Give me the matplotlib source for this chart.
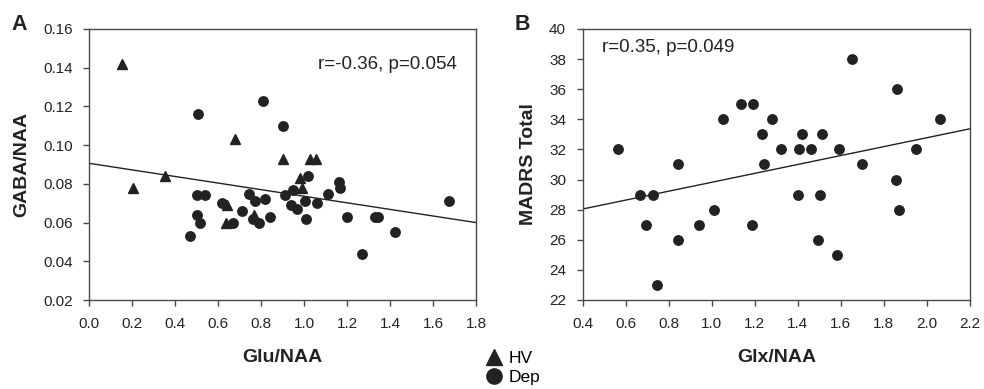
import matplotlib
matplotlib.use("Agg")
import matplotlib.pyplot as plt
import numpy as np
from matplotlib.lines import Line2D

plt.rcParams['font.family'] = ['Liberation Sans', 'DejaVu Sans']

# ---- Panel A data ----
hv_glu = [0.152, 0.202, 0.352, 0.678, 0.90, 1.027, 1.054, 0.639, 0.634, 0.768, 0.98, 0.991]
hv_gaba = [0.142, 0.078, 0.084, 0.103, 0.093, 0.093, 0.093, 0.069, 0.060, 0.064, 0.083, 0.078]

dep_glu = [0.507, 0.81, 0.90, 0.50, 0.538, 0.50, 0.515, 0.468, 0.616, 0.667, 0.709,
           0.744, 0.771, 0.763, 0.791, 0.817, 0.84, 1.016, 0.91, 0.946, 0.941, 0.965,
           1.003, 1.011, 1.062, 1.109, 1.161, 1.166, 1.20, 1.329, 1.345, 1.422, 1.27, 1.674]
dep_gaba = [0.116, 0.123, 0.110, 0.074, 0.074, 0.064, 0.060, 0.053, 0.070, 0.060, 0.066,
            0.075, 0.071, 0.062, 0.060, 0.072, 0.063, 0.084, 0.074, 0.077, 0.069, 0.067,
            0.071, 0.062, 0.070, 0.075, 0.081, 0.078, 0.063, 0.063, 0.063, 0.055, 0.044, 0.071]

fit_a_intercept = 0.0906
fit_a_slope = -0.0170
label_a = "r=-0.36, p=0.054"

# ---- Panel B data ----
glx = [0.566, 0.842, 1.051, 1.136, 1.19, 1.233, 1.279, 1.651, 1.863, 2.059, 1.417, 1.51,
       1.321, 1.406, 1.462, 1.591, 1.95, 1.243, 1.698, 0.667, 0.726, 0.694, 0.842, 0.744,
       0.942, 1.012, 1.189, 1.40, 1.505, 1.857, 1.868, 1.494, 1.58]
madrs = [32, 31, 34, 35, 35, 33, 34, 38, 36, 34, 33, 33,
         32, 32, 32, 32, 32, 31, 31, 29, 29, 27, 26, 23,
         27, 28, 27, 29, 29, 30, 28, 26, 25]

fit_b_intercept = 26.86
fit_b_slope = 2.96
label_b = "r=0.35, p=0.049"

W, H = 984, 389
fig = plt.figure(figsize=(W / 100, H / 100), dpi=100)

def ax_at(l, r, t, b):
    return fig.add_axes([l / W, 1 - b / H, (r - l) / W, (b - t) / H])

axA = ax_at(89.3, 476, 29, 300)
axB = ax_at(582.7, 970, 29, 300)

mcol = '#222222'
ms = 6.8
tcol = '#222222'

def style(ax):
    for s in ax.spines.values():
        s.set_color('#4a4a4a')
        s.set_linewidth(1.0)
    ax.tick_params(axis='both', which='major', direction='out', length=4,
                   width=1.0, color='#4a4a4a', labelsize=11, labelcolor=tcol,
                   top=False, right=False, pad=8)

# Panel A
xs = np.array([0.0, 1.8])
axA.plot(xs, fit_a_intercept + fit_a_slope * xs, color='#222222', lw=1.0, zorder=1)
axA.plot(hv_glu, hv_gaba, linestyle='none', marker='^', ms=ms, color=mcol, zorder=3)
axA.plot(dep_glu, dep_gaba, linestyle='none', marker='o', ms=ms, color=mcol, zorder=3)
axA.set_xlim(0, 1.8)
axA.set_ylim(0.02, 0.16)
xta = np.arange(0, 1.81, 0.2)
yta = np.arange(0.02, 0.161, 0.02)
axA.set_xticks(xta)
axA.set_yticks(yta)
axA.set_xticklabels([f"{v:.1f}" for v in xta])
axA.set_yticklabels([f"{v:.2f}" for v in yta])
style(axA)
axA.set_xlabel("Glu/NAA", fontsize=14, fontweight='bold', color=tcol, labelpad=13)
axA.set_ylabel("GABA/NAA", fontsize=14, fontweight='bold', color=tcol, labelpad=9)
axA.text(0.95, 0.87, label_a, transform=axA.transAxes, ha='right', va='center',
         fontsize=13.5, color=tcol)

# Panel B
xs = np.array([0.4, 2.2])
axB.plot(xs, fit_b_intercept + fit_b_slope * xs, color='#222222', lw=1.0, zorder=1)
axB.plot(glx, madrs, linestyle='none', marker='o', ms=ms, color=mcol, zorder=3)
axB.set_xlim(0.4, 2.2)
axB.set_ylim(22, 40)
xtb = np.arange(0.4, 2.21, 0.2)
axB.set_xticks(xtb)
axB.set_xticklabels([f"{v:.1f}" for v in xtb])
axB.set_yticks(np.arange(22, 41, 2))
style(axB)
axB.set_xlabel("Glx/NAA", fontsize=14, fontweight='bold', color=tcol, labelpad=13)
axB.set_ylabel("MADRS Total", fontsize=14, fontweight='bold', color=tcol, labelpad=9)
axB.text(0.05, 0.93, label_b, transform=axB.transAxes, ha='left', va='center',
         fontsize=13.5, color=tcol)

# Panel letters
fig.text(19.5 / W, 1 - 25 / H, "A", fontsize=15.5, fontweight='bold', ha='center', va='center', color=tcol)
fig.text(522 / W, 1 - 25 / H, "B", fontsize=15.5, fontweight='bold', ha='center', va='center', color=tcol)

# Legend
handles = [Line2D([], [], linestyle='none', marker='^', ms=12, color=mcol),
           Line2D([], [], linestyle='none', marker='o', ms=11, color=mcol)]
fig.legend(handles, ["HV", "Dep"], loc='center', bbox_to_anchor=(512 / W, 1 - 368 / H),
           frameon=False, fontsize=12.5, handletextpad=0.25, labelspacing=0.2,
           handlelength=1.2, borderpad=0)

fig.savefig("out.png", dpi=100)
